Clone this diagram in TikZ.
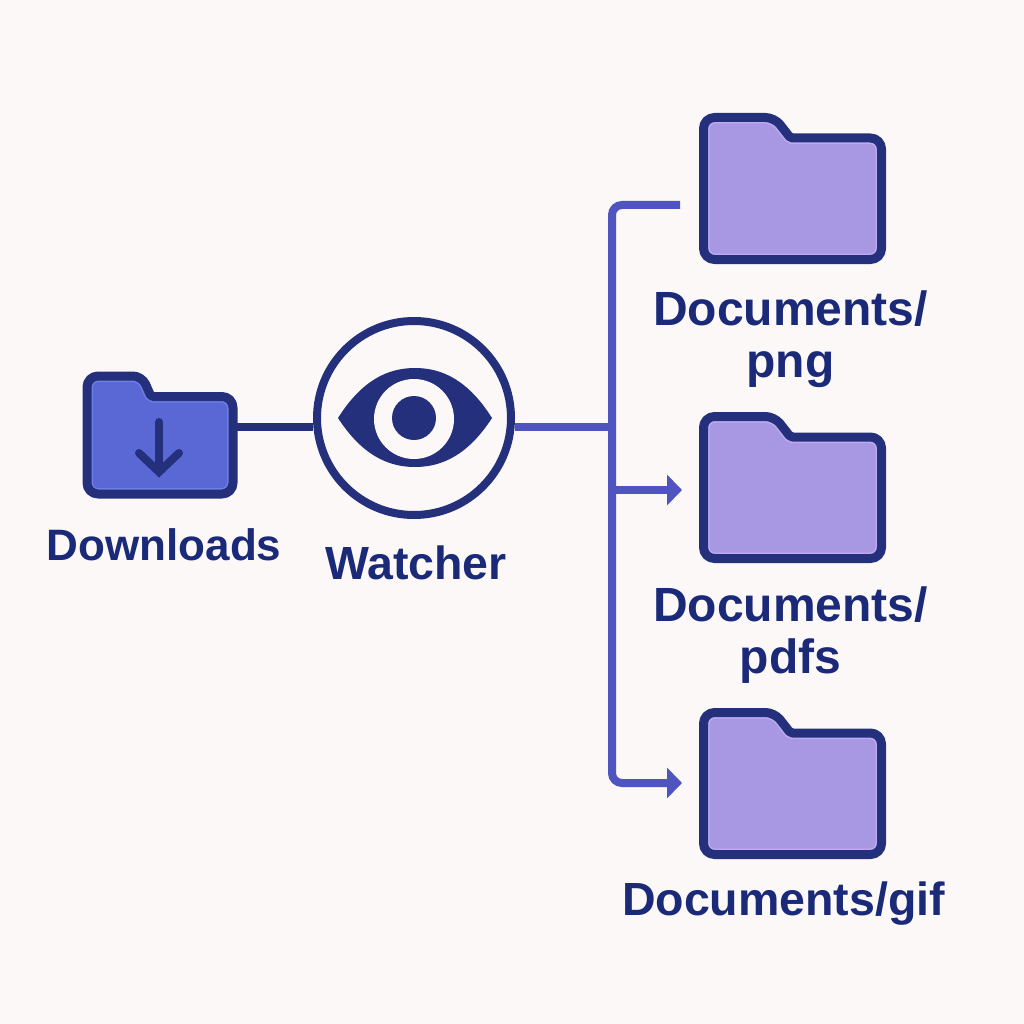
\documentclass[tikz,border=0pt]{standalone}
\usepackage{fontspec}
\setmainfont{Liberation Sans}
\usetikzlibrary{arrows.meta,calc}
\definecolor{paper}{HTML}{FCF8F7}
\definecolor{navy}{HTML}{25307C}
\definecolor{inktext}{HTML}{1A2A78}
\definecolor{wireblue}{HTML}{4F54C0}
\definecolor{inboxblue}{HTML}{5A68D6}
\definecolor{inboxrim}{HTML}{6F7DE6}
\definecolor{lavender}{HTML}{A897E3}
\definecolor{lavenderrim}{HTML}{BCABF0}
\tikzset{
  folderbox/.style={inner sep=0pt,outer sep=0pt,minimum width=178pt,minimum height=142pt},
  outline/.style={draw=navy,line width=9pt,line join=round},
  wire/.style={draw=wireblue,line width=8pt,rounded corners=10pt},
  caption/.style={text=inktext,align=center,font=\fontsize{48}{52}\selectfont\bfseries,inner sep=0pt},
  ring/.style={circle,draw=navy,line width=8pt,minimum size=194pt,inner sep=0pt,outer sep=4pt}
}
\newcommand{\foldericon}[5]{
  \def\folderpath{[rounded corners=11pt] (#1.south) -- (#1.south west) -- (#1.north west)
    [rounded corners=9pt] -- ([xshift=#4]#1.north west) [rounded corners=2pt] -- ([xshift=#5,yshift=-20.5pt]#1.north west)
    [rounded corners=11pt] -- ([yshift=-20.5pt]#1.north east) -- (#1.south east) -- cycle}
  \fill[#2] \folderpath;
  \begin{scope}
    \clip \folderpath;
    \draw[#3,line width=12pt] \folderpath;
  \end{scope}
  \draw[outline] \folderpath;
}
\begin{document}
\begin{tikzpicture}[x=1pt,y=-1pt,>={Triangle[length=15pt,width=30pt]}]
            \fill[paper] (0,0) rectangle (1024,1024);

            \node[folderbox,minimum width=146pt,minimum height=118pt] (inbox) at (160,435) {};
            \node[ring]      (watcher) at (414,418) {};
            \node[folderbox] (dest_1)  at (792.5,188.5) {};
            \node[folderbox] (dest_2)  [below of=dest_1,node distance=299pt] {};
            \node[folderbox] (dest_3)  [below of=dest_2,node distance=296pt] {};

            \foldericon{inbox}{inboxblue}{inboxrim}{55pt}{64pt}
            \foldericon{dest_1}{lavender}{lavenderrim}{71pt}{87pt}
            \foldericon{dest_2}{lavender}{lavenderrim}{71pt}{87pt}
            \foldericon{dest_3}{lavender}{lavenderrim}{71pt}{87pt}

            \draw[navy,line width=8pt,line cap=round] (159,422) -- (159,470);
            \draw[navy,line width=8pt,line cap=round,line join=miter] (139,453) -- (159,472) -- (179,453);

            \fill[navy] (338,418) .. controls (362,380) and (388,368) .. (415,368)
                .. controls (442,368) and (468,380) .. (492,418)
                .. controls (468,455) and (442,467) .. (415,467)
                .. controls (388,467) and (362,455) .. (338,418) -- cycle;
            \fill[paper] (414,419) circle (40);
            \fill[navy]  (414,418) circle (22);

            \node[caption,xshift=4pt,font=\fontsize{44}{52}\selectfont\bfseries] (cap_in) [below of=inbox,node distance=109.5pt] {Downloads};
            \node[caption,xshift=2pt,font=\fontsize{46.5}{52}\selectfont\bfseries] (cap_eye) [below of=watcher,node distance=144.5pt] {Watcher};
            \node[caption,xshift=-2pt] (cap_1)  [below of=dest_1,node distance=151pt] {Documents/\\png};
            \node[caption,xshift=-2pt] (cap_2)  [below of=dest_2,node distance=147.5pt] {Documents/\\pdfs};
            \node[caption,xshift=-9pt,font=\fontsize{46.5}{52}\selectfont\bfseries] (cap_3) [below of=dest_3,node distance=120pt] {Documents/gif};

            \coordinate (hub)   at (612,427);
            \coordinate (tip_1) at (680,205);
            \coordinate (tip_2) at (682,490);
            \coordinate (tip_3) at (682,783);

            \draw[navy,line width=8pt] (inbox.east |- hub) -- (watcher.west |- hub);
            \draw[wire] (watcher.east |- hub) -- (hub);
            \draw[wire] (hub) |- (tip_1);
            \draw[wire,->] (hub |- tip_2) -- (tip_2);
            \draw[wire,->] (hub) |- (tip_3);
\end{tikzpicture}
\end{document}
